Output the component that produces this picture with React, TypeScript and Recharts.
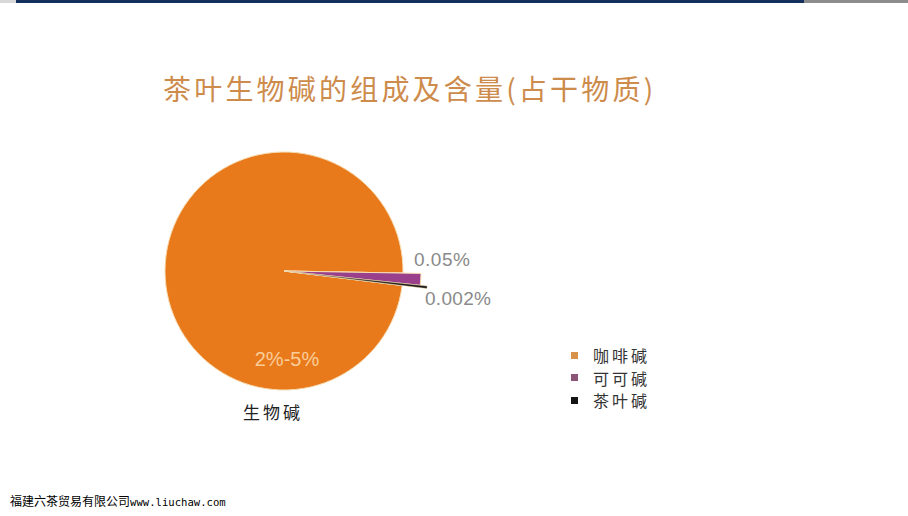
import { PieChart, Pie, Cell, Legend } from 'recharts'

// 茶叶生物碱的组成及含量 — the slice angles are illustrative, as in the source picture
const names = ['咖啡碱', '可可碱', '茶叶碱']
const shares = [354, 5, 1]
const shareLabels = ['2%-5%', '0.05%', '0.002%']
const colors = ['#e97a1c', '#993f8c', '#161616']
const legendColors = ['#d9924a', '#8c5577', '#141414']

const data = names.map((name, i) => ({ name, value: shares[i], label: shareLabels[i] }))

const CX = 284
const CY = 271

const numFont = '"Liberation Sans", Arial, sans-serif'
const cjkFont = '"Noto Sans CJK SC", sans-serif'

const renderLabel = (p: any) => {
  const { cx, cy, index } = p
  if (index === 0) {
    return (
      <g>
        <text x={cx + 3} y={cy + 88} textAnchor="middle" dominantBaseline="central"
          fontFamily={numFont} fontSize={20} fill="#f9cd98">{shareLabels[0]}</text>
        <text x={cx - 11} y={cy + 140} textAnchor="middle" dominantBaseline="central"
          fontFamily={cjkFont} fontSize={17} letterSpacing={3} fill="#222">生物碱</text>
      </g>
    )
  }
  if (index === 1) {
    return (
      <text x={cx + 130} y={cy - 12} dominantBaseline="central" fontFamily={numFont}
        fontSize={19} letterSpacing={0.5} fill="#8a8a8a">{shareLabels[1]}</text>
    )
  }
  return (
    <text x={cx + 141} y={cy + 27} dominantBaseline="central" fontFamily={numFont}
      fontSize={19} letterSpacing={0.3} fill="#8a8a8a">{shareLabels[2]}</text>
  )
}

const renderLegend = () => (
  <div style={{ fontFamily: cjkFont }}>
    {names.map((n, i) => (
      <div key={n} style={{ display: 'flex', alignItems: 'center', height: 22.5 }}>
        <span style={{ width: 7, height: 7, background: legendColors[i], display: 'inline-block', marginLeft: 6 }} />
        <span style={{ marginLeft: 15, fontSize: 16, letterSpacing: 3, color: '#333' }}>{n}</span>
      </div>
    ))}
  </div>
)

export default function App() {
  return (
    <div style={{ position: 'absolute', left: 0, top: 0, width: 908, height: 516, background: '#fff', overflow: 'hidden' }}>
      <div style={{ position: 'absolute', left: 0, top: 0, width: 16, height: 3, background: '#d8d8d8' }} />
      <div style={{ position: 'absolute', left: 16, top: 0, width: 788, height: 3, background: '#13305c' }} />
      <div style={{ position: 'absolute', left: 804, top: 0, width: 104, height: 3, background: '#8c8c8c' }} />

      <div style={{ position: 'absolute', left: 163, top: 71, height: 34, lineHeight: '34px', fontFamily: cjkFont,
        fontSize: 28, fontWeight: 400, letterSpacing: 3.2, color: '#cd8b4c', whiteSpace: 'nowrap' }}>
        茶叶生物碱的组成及含量(占干物质)
      </div>

      <PieChart width={908} height={516} margin={{ top: 0, right: 0, bottom: 0, left: 0 }}>
        <Pie data={data} dataKey="value" nameKey="name" cx={CX} cy={CY} outerRadius={119}
          startAngle={353} endAngle={-7} stroke="#f7dcb2" strokeWidth={1}
          label={renderLabel} labelLine={false} isAnimationActive={false}>
          {data.map((d, i) => <Cell key={d.name} fill={colors[i]} />)}
        </Pie>
        <Pie data={data} dataKey="value" nameKey="name" cx={CX} cy={CY} outerRadius={137}
          startAngle={353} endAngle={-7} legendType="none" label={false} isAnimationActive={false}>
          {data.map((d, i) => (
            <Cell key={d.name} fill={i === 1 ? colors[1] : 'none'} stroke={i === 1 ? '#f7dcb2' : 'none'} strokeWidth={1} />
          ))}
        </Pie>
        <Pie data={data} dataKey="value" nameKey="name" cx={CX} cy={CY} outerRadius={144}
          startAngle={353} endAngle={-7} legendType="none" label={false} isAnimationActive={false}>
          {data.map((d, i) => (
            <Cell key={d.name} fill={i === 2 ? colors[2] : 'none'} stroke={i === 2 ? '#f7dcb2' : 'none'} strokeWidth={0.5} />
          ))}
        </Pie>
        <Legend content={renderLegend}
          wrapperStyle={{ left: 565, top: 344, bottom: 'auto', width: 130, height: 70 }} />
      </PieChart>

      <div style={{ position: 'absolute', left: 10, top: 493, height: 16, lineHeight: '16px', whiteSpace: 'nowrap', color: '#000' }}>
        <span style={{ fontFamily: cjkFont, fontSize: 12 }}>福建六茶贸易有限公司</span>
        <span style={{ fontFamily: '"DejaVu Sans Mono", monospace', fontSize: 10.6 }}>www.liuchaw.com</span>
      </div>
    </div>
  )
}
